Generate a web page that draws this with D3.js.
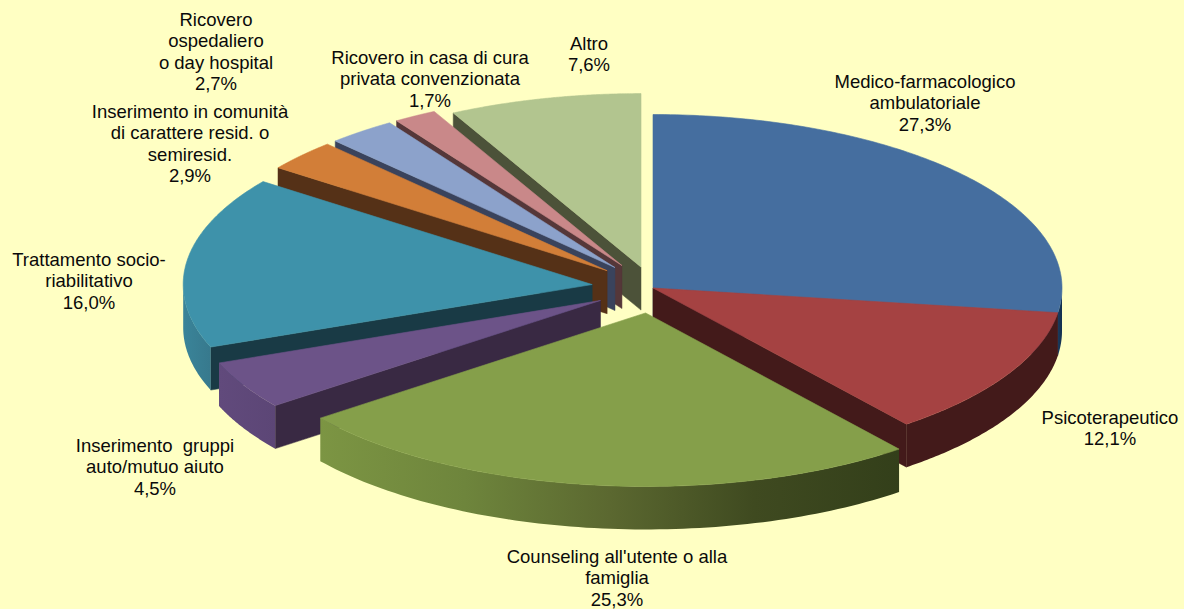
<!DOCTYPE html>
<html>
<head>
<meta charset="utf-8">
<script src="https://cdn.jsdelivr.net/npm/d3@7"></script>
<style>
html,body{margin:0;padding:0;background:#FFFFC3;overflow:hidden}
svg{display:block}
text{font-family:"Liberation Sans",Arial,sans-serif;font-size:18.5px;fill:#0a0a0a;white-space:pre}
</style>
</head>
<body>
<svg id="chart" width="1184" height="609"></svg>
<script>
// --- data ---
const categories = ["Medico-farmacologico ambulatoriale","Psicoterapeutico","Counseling all'utente o alla famiglia","Inserimento gruppi auto/mutuo aiuto","Trattamento socio-riabilitativo","Inserimento in comunità di carattere resid. o semiresid.","Ricovero ospedaliero o day hospital","Ricovero in casa di cura privata convenzionata","Altro"];
const values = [27.3,12.1,25.3,4.5,16.0,2.9,2.7,1.7,7.6];
const valueLabels = ["27,3%","12,1%","25,3%","4,5%","16,0%","2,9%","2,7%","1,7%","7,6%"];
const labelLines = [
  ["Medico-farmacologico","ambulatoriale"],
  ["Psicoterapeutico"],
  ["Counseling all'utente o alla","famiglia"],
  ["Inserimento  gruppi","auto/mutuo aiuto"],
  ["Trattamento socio-","riabilitativo"],
  ["Inserimento in comunità","di carattere resid. o","semiresid."],
  ["Ricovero","ospedaliero","o day hospital"],
  ["Ricovero in casa di cura","privata convenzionata"],
  ["Altro"]
];
// --- layout & style ---
const explode = [0,0,.145,.147,.15,.15,.15,.15,.124];
const labelPos = [[925,88],[1110,424],[617,563],[155,452],[89,266],[190,118],[216,26],[430,64],[589,50]];
const topColors = ["#456E9F","#A54242","#859F4A","#6C5388","#3E92AA","#D27E38","#8CA2CB","#C98889","#B2C58F"];
const innerColors = ["#2A4363","#431A1A","#333F1A","#392943","#193A45","#553117","#3A435C","#553739","#4C5239"];
const outerStops = [
  ["#1c3a5c","#12304f"],
  ["#431A1A","#431A1A"],
  ["#7C9543","#6E853C","#5B6830","#3F4A20","#333F1A"],
  ["#614A7C","#5C4676"],
  ["#3A8499","#37798D"],
  ["#553117","#553117"],
  ["#3A435C","#3A435C"],
  ["#553739","#553739"],
  ["#4C5239","#4C5239"]
];
const drawOrder = [8,7,6,5,0,4,3,1,2];
const cx = 653, cy = 288, rx = 409, ry = 173.5, depth = 43;

const svg = d3.select("#chart");
const defs = svg.append("defs");
const pie = d3.pie().sort(null).startAngle(0).endAngle(2*Math.PI);
const arcs = pie(values);
const sx = d3.scaleLinear().domain([-1,1]).range([-rx,rx]);
const sy = d3.scaleLinear().domain([-1,1]).range([-ry,ry]);
const line = d3.line();

arcs.forEach((a,i)=>{
  const mid = (a.startAngle+a.endAngle)/2;
  a.ox = cx + sx(explode[i]*Math.sin(mid));
  a.oy = cy + sy(-explode[i]*Math.cos(mid));
});
const pt = (a,t,dz=0)=>[a.ox+sx(Math.sin(t)), a.oy+sy(-Math.cos(t))+dz];
const sweep = (t0,t1,n)=>d3.range(0,n+1).map(k=>t0+(t1-t0)*k/n);

function sideWall(a,t){
  return line([[a.ox,a.oy],pt(a,t),pt(a,t,depth),[a.ox,a.oy+depth]])+"Z";
}
function outerWall(a){
  const t0 = Math.max(a.startAngle,Math.PI/2), t1 = Math.min(a.endAngle,3*Math.PI/2);
  if(t1<=t0) return null;
  const ts = sweep(t0,t1,80);
  return line(ts.map(t=>pt(a,t)).concat(ts.slice().reverse().map(t=>pt(a,t,depth))))+"Z";
}
function topFace(a){
  return line([[a.ox,a.oy]].concat(sweep(a.startAngle,a.endAngle,120).map(t=>pt(a,t))))+"Z";
}
drawOrder.forEach(i=>{
  const a = arcs[i];
  const g = svg.append("g");
  // cut faces, only the ones that face the viewer
  if(Math.sin(a.startAngle)<0)
    g.append("path").attr("d",sideWall(a,a.startAngle)).attr("fill",innerColors[i]).attr("stroke",innerColors[i]).attr("stroke-width",.5);
  if(Math.sin(a.endAngle)>0)
    g.append("path").attr("d",sideWall(a,a.endAngle)).attr("fill",innerColors[i]).attr("stroke",innerColors[i]).attr("stroke-width",.5);
  const wall = outerWall(a);
  if(wall){
    const id="w"+i, t0=Math.max(a.startAngle,Math.PI/2), t1=Math.min(a.endAngle,3*Math.PI/2);
    const x0=pt(a,t0)[0], x1=pt(a,t1)[0];
    const stops=outerStops[i];
    const gr=defs.append("linearGradient").attr("id",id).attr("gradientUnits","userSpaceOnUse")
      .attr("x1",Math.min(x0,x1)).attr("x2",Math.max(x0,x1)).attr("y1",0).attr("y2",0);
    stops.forEach((c,k)=>gr.append("stop").attr("offset",k/(stops.length-1)).attr("stop-color",c));
    g.append("path").attr("d",wall).attr("fill",`url(#${id})`);
  }
  g.append("path")
    .attr("d",topFace(a))
    .attr("fill",topColors[i])
    .attr("stroke",topColors[i]).attr("stroke-width",.6).attr("stroke-linejoin","round");
});

const lh = 21.4;
const labels = svg.append("g").attr("text-anchor","middle");
labelLines.forEach((ls,i)=>{
  const all = ls.concat([valueLabels[i]]);
  const [x,y] = labelPos[i];
  all.forEach((s,k)=>labels.append("text").attr("x",x).attr("y",y+k*lh).text(s));
});
</script>
</body>
</html>
